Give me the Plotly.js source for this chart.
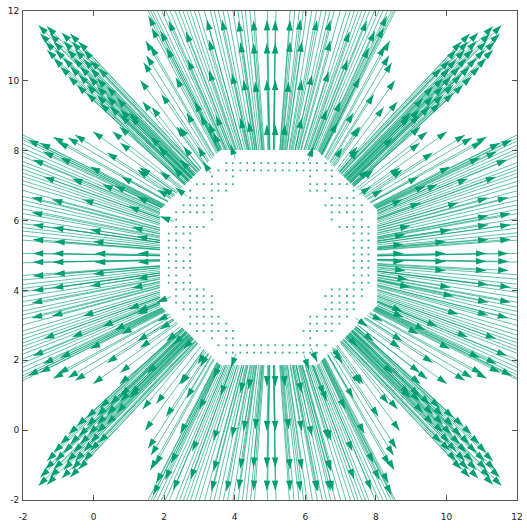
<!DOCTYPE html>
<html><head><meta charset="utf-8">
<script src="https://cdn.plot.ly/plotly-3.0.1.min.js"></script>
<style>html,body{margin:0;padding:0;background:#fff}</style></head>
<body><div id="chart" style="width:527px;height:528px"></div>
<script>
// ---- arrow heads (data coordinates) ----
const westHeads = [[-1.85,8.31],[-1.51,8.22],[-1.14,8.39],[-1.0,8.25],[-0.72,8.37],[-0.52,8.45],[-0.01,8.54],[0.39,7.94],[0.76,8.22],[-0.09,7.54],[-0.94,7.8],[-1.42,7.97],[1.32,7.51],[-1.71,7.74],[-1.4,7.25],[-0.6,7.2],[0.6,7.0],[-0.29,6.6],[-1.17,6.6],[-1.74,6.66],[-1.74,6.23],[1.0,6.4],[-1.71,5.88],[-1.14,5.8],[-0.09,5.74],[1.1,5.8],[1.24,5.54],[-1.71,5.46],[-1.1,5.4],[0.0,5.4],[-1.71,5.06],[-1.14,5.06],[0.05,5.06],[1.27,5.06],[-1.71,4.81],[-1.14,4.81],[0.05,4.81],[1.27,4.81],[-1.71,4.41],[-1.1,4.47],[0.0,4.47],[1.24,4.33],[1.1,4.07],[-0.09,4.13],[-1.14,4.07],[-1.71,3.99],[-1.74,3.64],[-1.74,3.21],[-1.17,3.27],[-0.29,3.27],[1.0,3.47],[0.6,2.87],[-0.6,2.67],[-1.4,2.62],[-1.71,2.13],[1.32,2.36],[-1.42,1.9],[-0.94,2.07],[-0.09,2.33],[0.76,1.65],[0.39,1.93],[-0.01,1.33],[-0.52,1.42],[-0.72,1.5],[-1.0,1.62],[-1.14,1.48],[-1.51,1.65],[-1.85,1.56]];
const eastHeads = [[11.85,8.31],[11.51,8.22],[11.14,8.39],[11.0,8.25],[10.72,8.37],[10.52,8.45],[10.01,8.54],[9.61,7.94],[9.24,8.22],[10.09,7.54],[10.94,7.8],[11.42,7.97],[8.68,7.51],[11.71,7.74],[11.4,7.25],[10.6,7.2],[9.4,7.0],[11.17,6.65],[11.74,6.66],[9.26,6.51],[10.33,6.51],[11.18,6.14],[11.81,6.2],[8.97,5.85],[10.11,5.74],[11.18,5.88],[11.81,5.88],[8.83,5.6],[9.97,5.4],[11.18,5.46],[11.81,5.46],[8.78,5.32],[8.78,5.06],[9.97,5.06],[11.12,5.06],[11.75,5.06],[8.78,4.83],[9.97,4.83],[11.12,4.83],[11.75,4.83],[8.83,4.57],[9.97,4.57],[11.12,4.57],[11.75,4.57],[8.9,4.31],[10.11,4.09],[11.18,4.16],[11.81,4.09],[8.97,4.09],[10.2,3.83],[11.18,3.66],[11.81,3.66],[8.78,3.23],[10.33,3.32],[11.18,3.29],[11.85,1.56],[11.51,1.65],[11.14,1.48],[11.0,1.62],[10.72,1.5],[10.52,1.42],[10.01,1.33],[9.61,1.93],[9.24,1.65],[10.09,2.33],[10.94,2.07],[11.42,1.9],[8.68,2.36],[11.71,2.13],[11.4,2.62],[10.6,2.67],[9.4,2.87],[11.74,3.21]];
const northHeads = [[8.31,11.85],[8.22,11.51],[8.39,11.14],[8.25,11.0],[8.37,10.72],[8.45,10.52],[8.54,10.01],[7.94,9.61],[8.22,9.24],[7.54,10.09],[7.8,10.94],[7.97,11.42],[7.51,8.68],[7.74,11.71],[7.25,11.4],[7.2,10.6],[7.0,9.4],[4.11,11.7],[4.53,11.73],[4.91,11.73],[5.15,11.73],[5.57,11.73],[5.86,11.75],[6.33,11.73],[6.71,11.73],[4.16,11.1],[4.53,11.07],[4.91,11.07],[5.15,11.07],[5.57,11.12],[5.9,11.12],[6.71,11.15],[3.92,10.2],[4.25,10.02],[4.58,9.97],[4.91,10.02],[5.15,10.02],[5.53,9.97],[5.9,10.02],[6.19,10.17],[6.66,10.26],[4.16,8.93],[4.39,8.83],[4.91,8.74],[5.15,8.74],[5.43,8.74],[5.9,8.93],[6.61,9.17],[3.64,11.74],[3.21,11.74],[3.27,11.17],[3.27,10.29],[3.47,9.0],[2.87,9.4],[2.67,10.6],[2.62,11.4],[2.13,11.71],[2.36,8.68],[1.9,11.42],[2.07,10.94],[2.33,10.09],[1.65,9.24],[1.93,9.61],[1.33,10.01],[1.42,10.52],[1.5,10.72],[1.62,11.0],[1.48,11.14],[1.65,11.51],[1.56,11.85]];
const southHeads = [[1.69,-1.85],[1.78,-1.51],[1.61,-1.14],[1.75,-1.0],[1.63,-0.72],[1.55,-0.52],[1.46,-0.01],[2.06,0.39],[1.78,0.76],[2.46,-0.09],[2.2,-0.94],[2.03,-1.42],[2.49,1.32],[2.26,-1.71],[2.75,-1.4],[2.8,-0.6],[3.0,0.6],[4.11,-1.7],[4.53,-1.73],[4.91,-1.73],[5.15,-1.73],[5.57,-1.73],[5.86,-1.75],[6.33,-1.73],[6.71,-1.73],[4.16,-1.1],[4.53,-1.07],[4.91,-1.07],[5.15,-1.07],[5.57,-1.12],[5.9,-1.12],[6.71,-1.15],[3.92,-0.2],[4.25,-0.02],[4.58,0.03],[4.91,-0.02],[5.15,-0.02],[5.53,0.03],[5.9,-0.02],[6.19,-0.17],[6.66,-0.26],[4.16,1.07],[4.39,1.17],[4.91,1.26],[5.15,1.26],[5.43,1.26],[5.9,1.07],[6.61,0.83],[3.4,-0.29],[3.4,-1.17],[3.34,-1.74],[3.77,-1.74],[3.6,1.0],[6.36,-1.74],[6.79,-1.74],[6.73,-1.17],[6.73,-0.29],[6.53,1.0],[7.13,0.6],[7.33,-0.6],[7.38,-1.4],[7.87,-1.71],[7.64,1.32],[8.1,-1.42],[7.93,-0.94],[7.67,-0.09],[8.35,0.76],[8.07,0.39],[8.67,-0.01],[8.58,-0.52],[8.5,-0.72],[8.38,-1.0],[8.52,-1.14],[8.35,-1.51],[8.44,-1.85]];
const northWestHeads = [[-1.56,11.59],[-1.32,11.56],[-1.51,11.35],[-1.23,11.35],[-0.9,11.38],[-0.66,11.35],[-1.37,11.12],[-1.13,11.12],[-0.85,11.14],[-0.61,11.12],[-0.42,11.12],[-1.32,10.88],[-1.08,10.88],[-0.75,10.9],[-0.52,10.88],[-0.28,10.88],[-1.13,10.64],[-0.85,10.64],[-0.57,10.64],[-0.28,10.61],[-0.09,10.59],[-0.94,10.4],[-0.66,10.4],[-0.38,10.4],[-0.09,10.36],[0.15,10.36],[-0.71,10.12],[-0.42,10.17],[-0.14,10.12],[0.10,10.07],[-0.47,9.88],[-0.19,9.88],[0.10,9.83],[0.38,9.83],[-0.19,9.64],[0.10,9.59],[0.38,9.55],[0.66,9.5],[0.19,9.36],[0.47,9.26],[0.76,9.17],[0.76,9.02],[1.04,8.98]];
const northEastHeads = [[11.56,11.59],[11.32,11.56],[11.51,11.35],[11.23,11.35],[10.9,11.38],[10.66,11.35],[11.37,11.12],[11.13,11.12],[10.85,11.14],[10.61,11.12],[10.42,11.12],[11.32,10.88],[11.08,10.88],[10.75,10.9],[10.52,10.88],[10.28,10.88],[11.13,10.64],[10.85,10.64],[10.57,10.64],[10.28,10.61],[10.09,10.59],[10.94,10.4],[10.66,10.4],[10.38,10.4],[10.09,10.36],[9.85,10.36],[10.71,10.12],[10.42,10.17],[10.14,10.12],[9.9,10.07],[10.47,9.88],[10.19,9.88],[9.9,9.83],[9.62,9.83],[10.19,9.64],[9.9,9.59],[9.62,9.55],[9.34,9.5],[9.81,9.36],[9.53,9.26],[9.24,9.17],[9.24,9.02],[8.96,8.98]];
const southWestHeads = [[-1.56,-1.59],[-1.32,-1.56],[-1.51,-1.35],[-1.23,-1.35],[-0.9,-1.38],[-0.66,-1.35],[-1.37,-1.12],[-1.13,-1.12],[-0.85,-1.14],[-0.61,-1.12],[-0.42,-1.12],[-1.32,-0.88],[-1.08,-0.88],[-0.75,-0.9],[-0.52,-0.88],[-0.28,-0.88],[-1.13,-0.64],[-0.85,-0.64],[-0.57,-0.64],[-0.28,-0.61],[-0.09,-0.59],[-0.94,-0.4],[-0.66,-0.4],[-0.38,-0.4],[-0.09,-0.36],[0.15,-0.36],[-0.71,-0.12],[-0.42,-0.17],[-0.14,-0.12],[0.10,-0.07],[-0.47,0.12],[-0.19,0.12],[0.10,0.17],[0.38,0.17],[-0.19,0.36],[0.10,0.41],[0.38,0.45],[0.66,0.5],[0.19,0.64],[0.47,0.74],[0.76,0.83],[0.76,0.98],[1.04,1.02]];
const southEastHeads = [[11.56,-1.59],[11.32,-1.56],[11.51,-1.35],[11.23,-1.35],[10.9,-1.38],[10.66,-1.35],[11.37,-1.12],[11.13,-1.12],[10.85,-1.14],[10.61,-1.12],[10.42,-1.12],[11.32,-0.88],[11.08,-0.88],[10.75,-0.9],[10.52,-0.88],[10.28,-0.88],[11.13,-0.64],[10.85,-0.64],[10.57,-0.64],[10.28,-0.61],[10.09,-0.59],[10.94,-0.4],[10.66,-0.4],[10.38,-0.4],[10.09,-0.36],[9.85,-0.36],[10.71,-0.12],[10.42,-0.17],[10.14,-0.12],[9.9,-0.07],[10.47,0.12],[10.19,0.12],[9.9,0.17],[9.62,0.17],[10.19,0.36],[9.9,0.41],[9.62,0.45],[9.34,0.5],[9.81,0.64],[9.53,0.74],[9.24,0.83],[9.24,0.98],[8.96,1.02]];
// short arrows whose heads sit close to the ring, between and inside the arms
const innerHeads = [[1.32,7.51],[1.89,7.4],[2.26,7.51],[2.46,7.74],[2.55,8.11],[2.95,8.11],[3.26,8.79],[3.4,8.51],[3.03,9.02],[1.61,8.4],[1.84,8.11],[1.24,6.68],[1.95,6.94],[2.32,6.94],[3.1,7.68],[3.88,8.17],[1.89,6.12],[1.25,7.45],[1.82,6.88],[0.8,7.25],[0.26,7.03],[0.74,8.68],[0.54,8.54],[1.02,9.08],[1.39,9.4],[2.64,9.08],[2.44,8.68],
 [6.23,8.11],[7.05,8.08],[7.5,8.02],[7.79,7.45],[7.85,6.97],[7.47,8.11],[7.56,8.68],[7.36,9.08],[8.47,8.37],[8.75,7.45],[7.93,7.45],[8.18,6.88],[8.75,6.6],[9.2,7.25],[9.74,7.03],[9.26,8.68],[9.46,8.54],[8.98,9.08],[8.61,9.4],[6.9,8.8],
 [1.8,3.66],[1.89,2.89],[2.26,2.46],[2.55,2.32],[3.03,1.83],[1.53,1.63],[1.25,2.55],[2.07,2.55],[1.82,3.12],[1.25,3.4],[0.8,2.75],[0.26,2.97],[0.74,1.32],[1.02,0.92],[1.39,0.6],[2.64,0.92],[2.44,1.32],[2.95,1.89],[3.4,1.49],[1.24,3.32],[3.9,1.8],
 [7.76,2.97],[7.48,2.4],[7.0,2.03],[6.34,1.95],[8.47,1.63],[8.75,2.55],[7.93,2.55],[8.18,3.12],[8.75,3.4],[9.2,2.75],[9.74,2.97],[9.26,1.32],[9.46,1.46],[8.98,0.92],[8.61,0.6],[7.36,0.92],[7.56,1.32],[7.05,1.92],[6.1,1.75]];

// ---- where the longer arrows leave the frame (heads outside the axes) ----
const westEdgeY  = [8.45,8.38,8.31,8.2,8.07,7.95,7.83,7.69,7.58,7.47,7.36,7.26,7.14,7.03,6.86,6.69,6.58,6.46,6.33,6.2,6.05,5.91,5.8,5.7,5.57,5.44,5.06,4.79,4.43,4.3,4.17,4.06,3.96,3.82,3.68,3.55,3.41,3.3,3.18,3.01,2.84,2.72,2.61,2.5,2.4,2.29,2.18,2.04,1.92,1.8,1.67,1.56,1.49,1.42];
const eastEdgeY  = [8.45,8.36,8.28,8.16,8.05,7.95,7.85,7.66,7.55,7.45,7.35,7.25,7.12,7.0,6.85,6.7,6.58,6.45,6.32,6.2,6.05,5.9,5.78,5.65,5.55,5.44,5.06,4.81,4.45,4.32,4.18,4.05,3.95,3.8,3.66,3.52,3.4,3.28,3.15,3.0,2.85,2.72,2.6,2.5,2.4,2.3,2.2,2.02,1.92,1.8,1.68,1.58,1.5,1.45];
const northEdgeX = [1.55,1.62,1.69,1.8,1.93,2.05,2.17,2.31,2.42,2.53,2.64,2.74,2.86,2.97,3.14,3.31,3.42,3.54,3.67,3.8,3.95,4.09,4.2,4.3,4.43,4.56,4.93,5.17,5.57,5.7,5.83,5.94,6.04,6.18,6.32,6.45,6.59,6.7,6.82,6.99,7.16,7.28,7.39,7.5,7.6,7.71,7.82,7.96,8.08,8.2,8.33,8.44,8.5,8.55];
const southEdgeX = [1.55,1.63,1.7,1.81,1.92,2.04,2.15,2.33,2.44,2.55,2.65,2.75,2.88,3.0,3.15,3.3,3.42,3.55,3.68,3.8,3.95,4.1,4.22,4.33,4.45,4.56,4.93,5.17,5.55,5.68,5.82,5.95,6.05,6.2,6.34,6.48,6.6,6.72,6.85,7.0,7.15,7.28,7.4,7.5,7.6,7.7,7.8,7.98,8.08,8.2,8.32,8.42,8.5,8.55];

// ---- near-zero vectors around the empty core (drawn as tiny heads) ----
const dotRowY = [7.645,7.436,7.265,7.046,6.856,6.647,6.437,6.238,6.029,5.819,5.629,5.43,5.22,5.03,4.84,4.65,4.43,4.22,4.03,3.84,3.65,3.46,3.25,3.05,2.84,2.63,2.43,2.22];
const dotRowX = [
 [3.76,3.95,4.16,4.35,4.55,4.75,4.95,5.15,5.36,5.55,5.76,5.95,6.14,6.33,6.57],
 [3.54,3.76,3.95,4.16,4.35,4.55,4.75,4.95,5.15,5.36,5.55,5.76,5.95,6.14,6.33,6.57,6.75],
 [3.35,3.95,6.14,6.75],
 [2.93,3.12,3.35,3.54,3.76,3.95,6.14,6.33,6.57,6.75,6.97,7.18],
 [2.74,3.35,3.54,3.76,6.14,6.33,6.57,7.37],
 [2.74,2.93,3.12,3.35,6.75,6.97,7.18,7.37],
 [2.55,2.74,2.93,3.12,3.35,6.57,6.75,6.97,7.18,7.37,7.6],
 [2.34,2.55,2.74,2.93,3.12,3.35,6.75,6.97,7.18,7.37,7.6],
 [2.34,3.35,6.75,7.37,7.6],
 [2.34,2.55,2.74,2.93,3.12,6.97,7.18,7.37,7.6,7.79],
 [2.13,2.34,2.55,2.74,7.37,7.6,7.79],
 [2.13,2.34,2.74,7.37,7.6,7.79],
 [2.13,2.34,2.55,2.74,7.37,7.6,7.79],
 [2.13,2.34,2.74,7.37,7.6,7.79],
 [2.13,2.34,2.55,2.74,7.37,7.6,7.79],
 [2.13,2.34,2.55,2.74,7.37,7.6,7.79],
 [2.13,2.34,2.74,7.37,7.6,7.79],
 [2.13,2.34,2.55,2.74,7.37,7.6,7.79],
 [2.34,2.55,2.74,2.93,3.12,6.75,6.97,7.18,7.37,7.6],
 [2.34,2.74,2.93,3.12,3.35,6.57,6.75,6.97,7.18,7.37,7.6],
 [2.34,2.55,2.74,2.93,3.12,3.35,6.75,6.97,7.18,7.37],
 [2.55,2.74,2.93,3.12,3.35,6.57,6.75,6.97,7.18,7.37],
 [2.74,2.93,3.12,3.35,3.54,6.14,6.33,6.57,6.75,6.97,7.18],
 [2.74,2.93,3.12,3.35,3.54,3.76,6.14,6.33,6.57,6.75,6.97],
 [2.93,3.12,3.35,3.54,3.76,3.95,5.95,6.14,6.33,6.57,6.75],
 [3.35,3.76,3.95,6.14],
 [3.54,3.76,3.95,4.16,4.35,4.55,4.75,4.95,5.15,5.36,5.55,5.76,5.95,6.14,6.33,6.57],
 [3.76,3.95,4.16,4.35,4.55,4.75,4.95,5.15,5.36,5.55,5.76,5.95,6.14,6.33]
];

// geometry of the fans: ring centre, focus points, ring (octagon) size where shafts start
const ringCenter = [4.96, 4.94];
const fanCenterWE = [5, 4.935];
const fanCenterNS = [5.05, 5];
const diagFocusBack = 6.0;
const ringApothem = 3.08;       // flat sides of the empty core
const ringApothemDiag = 3.15;   // slanted sides of the empty core
const tickValues = [-2,0,2,4,6,8,10,12];

// ---- build the traces ----
const PXX = 494/14, PXY = 489.3/14;
const lineX = [], lineY = [], headX = [], headY = [], headAngle = [];
function octNorm(x, y) {
  const dx = Math.abs(x - ringCenter[0]), dy = Math.abs(y - ringCenter[1]);
  return Math.max(dx, dy, (dx + dy) / Math.SQRT2 * ringApothem / ringApothemDiag);
}
function addArrow(hx, hy, f) {
  const a = Math.min(ringApothem, octNorm(hx, hy) - 0.4);
  let lo = 0, hi = 1;
  for (let k = 0; k < 40; k++) {
    const t = (lo + hi) / 2;
    const n = octNorm(hx + (f[0] - hx) * t, hy + (f[1] - hy) * t);
    if (n > a) lo = t; else hi = t;
  }
  const tx = hx + (f[0] - hx) * lo, ty = hy + (f[1] - hy) * lo;
  lineX.push(tx, hx, null); lineY.push(ty, hy, null);
  headX.push(hx); headY.push(hy);
  headAngle.push(Math.atan2((hx - tx) * PXX, (hy - ty) * PXY) * 180 / Math.PI);
}
westHeads.forEach(p => addArrow(p[0], p[1], fanCenterWE));
eastHeads.forEach(p => addArrow(p[0], p[1], fanCenterWE));
northHeads.forEach(p => addArrow(p[0], p[1], fanCenterNS));
southHeads.forEach(p => addArrow(p[0], p[1], fanCenterNS));
function diagFocus(sx, sy) { const s = diagFocusBack / Math.SQRT2; return [5 - sx * s, 5 - sy * s]; }
northWestHeads.forEach(p => addArrow(p[0], p[1], diagFocus(-1, 1)));
northEastHeads.forEach(p => addArrow(p[0], p[1], diagFocus(1, 1)));
southWestHeads.forEach(p => addArrow(p[0], p[1], diagFocus(-1, -1)));
southEastHeads.forEach(p => addArrow(p[0], p[1], diagFocus(1, -1)));
innerHeads.forEach(p => addArrow(p[0], p[1], [5, 4.95]));
function addOffFrame(ex, ey, c) {
  addArrow(c[0] + (ex - c[0]) * 1.15, c[1] + (ey - c[1]) * 1.15, c);
}
westEdgeY.forEach(y => addOffFrame(-2, y, fanCenterWE));
eastEdgeY.forEach(y => addOffFrame(12, y, fanCenterWE));
northEdgeX.forEach(x => addOffFrame(x, 12, fanCenterNS));
southEdgeX.forEach(x => addOffFrame(x, -2, fanCenterNS));

const dotX = [], dotY = [];
dotRowY.forEach((y, i) => dotRowX[i].forEach(x => { dotX.push(x); dotY.push(y); }));

const green = '#009e73';
const traces = [
  {x: lineX, y: lineY, type: 'scatter', mode: 'lines', line: {color: 'rgba(0,158,115,0.62)', width: 1}, hoverinfo: 'skip', showlegend: false},
  {x: headX, y: headY, type: 'scatter', mode: 'markers', marker: {symbol: 'arrow', size: 10.5, angle: headAngle, color: green, line: {width: 0}}, hoverinfo: 'skip', showlegend: false},
  {x: dotX, y: dotY, type: 'scatter', mode: 'markers', marker: {symbol: 'square', size: 1.8, color: green, opacity: 0.85, line: {width: 0}}, hoverinfo: 'skip', showlegend: false}
];

const axisCommon = {
  tickvals: tickValues, ticktext: tickValues.map(String),
  ticks: 'inside', ticklen: 5, tickwidth: 1, tickcolor: '#555',
  showline: true, linecolor: '#555', linewidth: 1, mirror: 'ticks',
  showgrid: false, zeroline: false,
  tickfont: {family: 'DejaVu Sans', size: 9, color: '#222'}
};
const layout = {
  width: 527, height: 528,
  margin: {l: 23, r: 10, t: 11, b: 28},
  paper_bgcolor: '#fff', plot_bgcolor: '#fff',
  xaxis: Object.assign({range: [-2, 12], ticklabelstandoff: 8}, axisCommon),
  yaxis: Object.assign({range: [-2, 12], ticklabelstandoff: 1}, axisCommon),
  showlegend: false
};
Plotly.newPlot('chart', traces, layout, {staticPlot: true, displayModeBar: false});
</script>
</body></html>
